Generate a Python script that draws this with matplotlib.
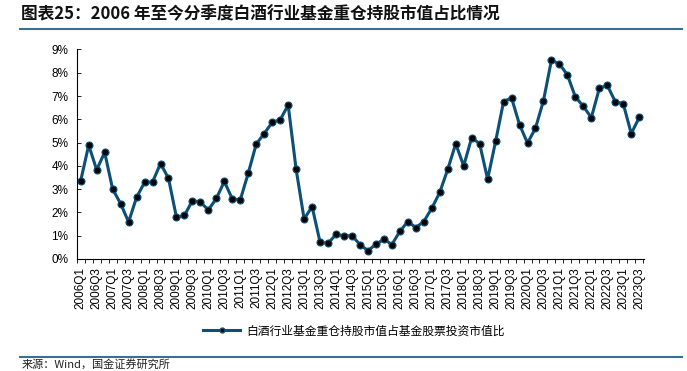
import matplotlib.pyplot as plt
from matplotlib.lines import Line2D

plt.rcParams['font.family'] = ['Liberation Sans', 'Noto Sans CJK SC', 'DejaVu Sans']

# quarterly share (%) from 2006Q1 to 2023Q3
years = list(range(2006, 2024))
quarters = [f'{y}Q{q}' for y in years for q in range(1, 5)][:71]
share = [3.37, 4.89, 3.83, 4.58,
         3.00, 2.38, 1.59, 2.65,
         3.29, 3.31, 4.10, 3.47,
         1.79, 1.87, 2.51, 2.44,
         2.11, 2.60, 3.33, 2.58,
         2.54, 3.69, 4.94, 5.39,
         5.87, 5.98, 6.61, 3.85,
         1.72, 2.25, 0.72, 0.67,
         1.06, 0.99, 1.00, 0.62,
         0.36, 0.63, 0.85, 0.62,
         1.19, 1.61, 1.35, 1.61,
         2.18, 2.86, 3.85, 4.95,
         4.00, 5.21, 4.95, 3.43,
         5.05, 6.76, 6.92, 5.77,
         4.98, 5.62, 6.80, 8.54,
         8.38, 7.91, 6.96, 6.56,
         6.07, 7.33, 7.46, 6.76,
         6.67, 5.39, 6.08]
tick_labels = quarters[::2]
yticks = list(range(0, 10))

title = '图表25：2006 年至今分季度白酒行业基金重仓持股市值占比情况'
series_name = '白酒行业基金重仓持股市值占基金股票投资市值比'
source = '来源：Wind，国金证券研究所'

line_color = '#0B5077'
rule_color = '#3A6F96'

fig = plt.figure(figsize=(6.87, 3.71), dpi=100)
ax = fig.add_axes([0.1117, 0.3019, 0.8257, 0.5647])

x = list(range(len(share)))
ax.plot(x, share, color=line_color, linewidth=2.2, marker='o', markersize=5,
        markerfacecolor='black', markeredgecolor=line_color, markeredgewidth=0.8)

ax.set_xlim(-0.33, 70.6)
ax.set_ylim(0, 9)
ax.set_yticks(yticks)
ax.set_yticklabels([f'{v}%' for v in yticks], fontsize=8.5)
ax.set_xticks(x[::2])
ax.set_xticklabels(tick_labels, rotation=90, fontsize=8.5)
ax.set_xticks([i + 0.5 for i in range(-1, 71)], minor=True)
ax.tick_params(axis='x', which='major', length=0, pad=6)
ax.tick_params(axis='x', which='minor', direction='out', length=3, width=0.6)
ax.tick_params(axis='y', direction='in', length=3, width=0.6, pad=6)
for s in ['top', 'right']:
    ax.spines[s].set_visible(False)
for s in ['left', 'bottom']:
    ax.spines[s].set_linewidth(0.8)

handle = Line2D([0], [0], color=line_color, linewidth=2.2, marker='o', markersize=3.5,
                markerfacecolor='black', markeredgecolor=line_color)
fig.legend([handle], [series_name], loc='center', bbox_to_anchor=(0.515, 0.108),
           frameon=False, handlelength=3.2, handletextpad=0.5,
           prop={'family': ['Noto Sans CJK SC'], 'size': 8.5})

fig.text(0.03, 0.962, title, fontsize=12, fontweight='bold', style='italic',
         family=['Noto Sans CJK SC'], va='center', ha='left', color='#111111')
fig.add_artist(Line2D([0.029, 0.993], [0.922, 0.922], color=rule_color, linewidth=1.5,
                      transform=fig.transFigure))
fig.add_artist(Line2D([0.029, 0.993], [0.038, 0.038], color=rule_color, linewidth=1.5,
                      transform=fig.transFigure))
fig.text(0.032, 0.004, source, fontsize=8, family=['Noto Sans CJK SC'],
         va='bottom', ha='left', color='#222222')

fig.savefig('out.png', dpi=100)
